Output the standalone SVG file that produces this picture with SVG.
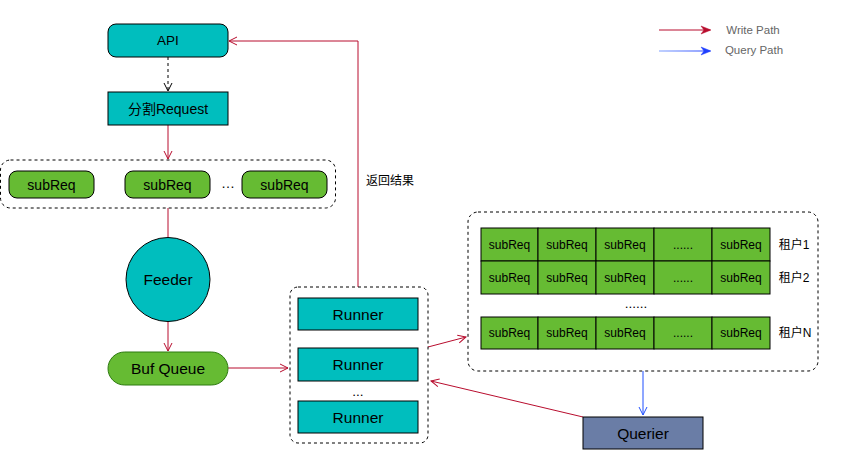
<svg xmlns="http://www.w3.org/2000/svg" width="852" height="468" viewBox="0 0 852 468">
<defs>
<style>
text{font-family:"Liberation Sans",Arial,"Noto Sans CJK SC",sans-serif;fill:#000;text-anchor:middle;dominant-baseline:central}
.teal{fill:#00BEBE;stroke:#000;stroke-width:1}
.green{fill:#66BB33;stroke:#000;stroke-width:1}
.dash{fill:none;stroke:#000;stroke-width:1;stroke-dasharray:3 3}
.red{fill:none;stroke:#B80D2E;stroke-width:1}
.blue{fill:none;stroke:#1F4FFF;stroke-width:1}
.t13{font-size:13.5px}
.t14{font-size:14px}
.t15{font-size:15.5px}
.t12{font-size:12px}
.t11{font-size:11px}
.lg{font-size:11.5px;fill:#666}
</style>
<marker id="ar" viewBox="0 0 10 10" refX="9" refY="5" markerWidth="10" markerHeight="10" markerUnits="userSpaceOnUse" orient="auto">
<path d="M1,1 L9,5 L1,9" fill="none" stroke="#B80D2E" stroke-width="1"/>
</marker>
<marker id="ak" viewBox="0 0 10 10" refX="9" refY="5" markerWidth="10" markerHeight="10" markerUnits="userSpaceOnUse" orient="auto">
<path d="M1,1 L9,5 L1,9" fill="none" stroke="#000" stroke-width="1"/>
</marker>
<marker id="ab" viewBox="0 0 10 10" refX="9" refY="5" markerWidth="10" markerHeight="10" markerUnits="userSpaceOnUse" orient="auto">
<path d="M1,1 L9,5 L1,9" fill="none" stroke="#1F4FFF" stroke-width="1"/>
</marker>
<marker id="arf" viewBox="0 0 10 10" refX="9" refY="5" markerWidth="12" markerHeight="10" markerUnits="userSpaceOnUse" orient="auto">
<path d="M0,1 L10,5 L0,9 L3,5 Z" fill="#B80D2E" stroke="#B80D2E" stroke-width="0.5"/>
</marker>
<marker id="abf" viewBox="0 0 10 10" refX="9" refY="5" markerWidth="12" markerHeight="10" markerUnits="userSpaceOnUse" orient="auto">
<path d="M0,1 L10,5 L0,9 L3,5 Z" fill="#1F3FFF" stroke="#1F3FFF" stroke-width="0.5"/>
</marker>
<linearGradient id="bg" gradientUnits="userSpaceOnUse" x1="659" y1="51" x2="710" y2="51">
<stop offset="0" stop-color="#7FA0FF"/>
<stop offset="1" stop-color="#1F3FFF"/>
</linearGradient>
</defs>
<rect width="852" height="468" fill="#fff"/>

<g id="connectors">
<line x1="168" y1="57" x2="168" y2="91" stroke="#000" stroke-dasharray="3 3" marker-end="url(#ak)"/>
<line class="red" x1="168" y1="125" x2="168" y2="159" marker-end="url(#ar)"/>
<line class="red" x1="168" y1="208" x2="168" y2="237"/>
<line class="red" x1="168" y1="322" x2="168" y2="351" marker-end="url(#ar)"/>
<line class="red" x1="228" y1="368" x2="288" y2="368" marker-end="url(#ar)"/>
<polyline class="red" points="358,287 358,41 229,41" marker-end="url(#ar)"/>
<line class="red" x1="428" y1="347" x2="466" y2="337" marker-end="url(#ar)"/>
<line class="red" x1="583" y1="417" x2="431" y2="381" marker-end="url(#ar)"/>
<line class="blue" x1="643" y1="371" x2="643" y2="415" marker-end="url(#ab)"/>
<line x1="659" y1="30" x2="710" y2="30" stroke="#B80D2E" marker-end="url(#arf)"/>
<path d="M659,51 L710,51" fill="none" stroke="url(#bg)" stroke-width="1.2" marker-end="url(#abf)"/>
</g>

<g id="legend">
<text class="lg" x="753" y="30">Write Path</text>
<text class="lg" x="754" y="50">Query Path</text>
</g>

<g id="label-return">
<text class="t12" x="390" y="181">返回结果</text>
</g>

<g id="api">
<rect class="teal" x="108" y="24" width="120" height="33" rx="8"/>
<text class="t13" x="168" y="40.5">API</text>
</g>

<g id="split">
<rect class="teal" x="108" y="92" width="120" height="33"/>
<text class="t14" x="168" y="108.5">分割Request</text>
</g>

<g id="subreq-group">
<rect class="dash" x="0.5" y="160" width="335" height="48" rx="10"/>
<rect class="green" x="9" y="171" width="85" height="27" rx="8"/>
<text class="t14" x="51.5" y="184.5">subReq</text>
<rect class="green" x="125" y="171" width="85" height="27" rx="8"/>
<text class="t14" x="167.5" y="184.5">subReq</text>
<text class="t14" x="228" y="183">…</text>
<rect class="green" x="242" y="171" width="85" height="27" rx="8"/>
<text class="t14" x="284.5" y="184.5">subReq</text>
</g>

<g id="feeder">
<circle class="teal" cx="168" cy="279.5" r="42"/>
<text class="t15" x="168" y="279.5">Feeder</text>
</g>

<g id="bufqueue">
<rect x="108" y="352" width="120" height="33" rx="16.5" fill="#66BB33" stroke="#2D7A10"/>
<text class="t15" x="168" y="368.5">Buf Queue</text>
</g>

<g id="runners">
<rect class="dash" x="290" y="287" width="138" height="156" rx="8"/>
<rect class="teal" x="298" y="298" width="120" height="32"/>
<text class="t15" x="358" y="314">Runner</text>
<rect class="teal" x="298" y="348" width="120" height="33"/>
<text class="t15" x="358" y="364.5">Runner</text>
<text class="t13" x="358" y="391">...</text>
<rect class="teal" x="298" y="401" width="120" height="32"/>
<text class="t15" x="358" y="417">Runner</text>
</g>

<g id="tenants">
<rect class="dash" x="468" y="212" width="350" height="159" rx="10"/>
<g id="row1">
<rect class="green" x="481" y="228" width="57" height="33"/>
<rect class="green" x="538" y="228" width="58" height="33"/>
<rect class="green" x="596" y="228" width="58" height="33"/>
<rect class="green" x="654" y="228" width="58" height="33"/>
<rect class="green" x="712" y="228" width="58" height="33"/>
<text class="t12" x="509.5" y="244.5">subReq</text>
<text class="t12" x="567" y="244.5">subReq</text>
<text class="t12" x="625" y="244.5">subReq</text>
<text class="t12" x="683" y="244.5">......</text>
<text class="t12" x="741" y="244.5">subReq</text>
<text class="t12" x="794" y="244.5">租户1</text>
</g>
<g id="row2">
<rect class="green" x="481" y="261" width="57" height="33"/>
<rect class="green" x="538" y="261" width="58" height="33"/>
<rect class="green" x="596" y="261" width="58" height="33"/>
<rect class="green" x="654" y="261" width="58" height="33"/>
<rect class="green" x="712" y="261" width="58" height="33"/>
<text class="t12" x="509.5" y="277.5">subReq</text>
<text class="t12" x="567" y="277.5">subReq</text>
<text class="t12" x="625" y="277.5">subReq</text>
<text class="t12" x="683" y="277.5">......</text>
<text class="t12" x="741" y="277.5">subReq</text>
<text class="t12" x="794" y="277.5">租户2</text>
</g>
<text class="t13" x="636" y="303">......</text>
<g id="rowN">
<rect class="green" x="481" y="317" width="57" height="32"/>
<rect class="green" x="538" y="317" width="58" height="32"/>
<rect class="green" x="596" y="317" width="58" height="32"/>
<rect class="green" x="654" y="317" width="58" height="32"/>
<rect class="green" x="712" y="317" width="58" height="32"/>
<text class="t12" x="509.5" y="333">subReq</text>
<text class="t12" x="567" y="333">subReq</text>
<text class="t12" x="625" y="333">subReq</text>
<text class="t12" x="683" y="333">......</text>
<text class="t12" x="741" y="333">subReq</text>
<text class="t12" x="795" y="333">租户N</text>
</g>
</g>

<g id="querier">
<rect x="583" y="417" width="120" height="32" fill="#6A7DA6" stroke="#000"/>
<text class="t15" x="643" y="433">Querier</text>
</g>
</svg>
